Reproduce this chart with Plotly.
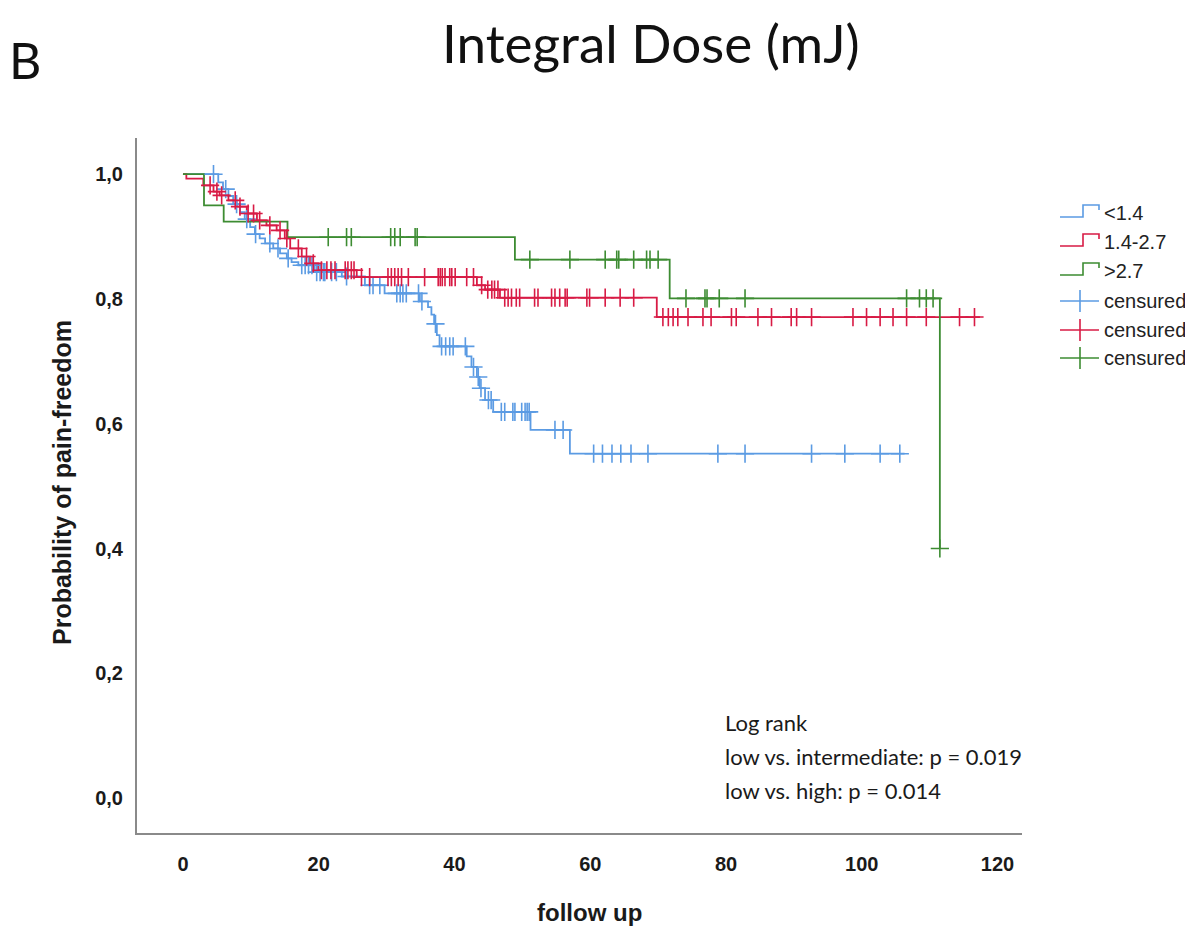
import plotly.graph_objects as go

# ---------------- data ----------------
x_ticks = [0, 20, 40, 60, 80, 100, 120]
y_ticks = [0.0, 0.2, 0.4, 0.6, 0.8, 1.0]
y_ticklabels = ["0,0", "0,2", "0,4", "0,6", "0,8", "1,0"]

group_names = ["<1.4", "1.4-2.7", ">2.7"]
censor_name = "censured"

# <1.4 (blue)
blue_times = [5.2, 5.9, 6.7, 7.4, 8.4, 9.1, 9.9, 10.6, 11.3, 12.1, 13.3, 14.3, 15.3, 16.0,
              17.0, 19.4, 23.4, 26.8, 29.7, 34.9, 36.1, 36.6, 37.0, 37.4, 37.8, 41.8,
              42.5, 43.3, 43.7, 44.5, 45.7, 51.2, 57.0]
blue_surv = [0.987, 0.976, 0.965, 0.952, 0.939, 0.928, 0.915, 0.904, 0.897, 0.889, 0.881,
             0.873, 0.865, 0.859, 0.854, 0.843, 0.836, 0.822, 0.809, 0.796, 0.787, 0.775,
             0.760, 0.742, 0.724, 0.708, 0.691, 0.675, 0.657, 0.638, 0.619, 0.590, 0.552]
blue_end = 106.3
blue_censored = [4.5, 6.3, 7.9, 9.4, 10.7, 12.8, 14.0, 15.5, 17.5, 18.0, 18.5, 19.0, 19.7,
                 20.2, 20.7, 20.9, 21.9, 22.6, 24.1, 27.5, 28.0, 29.0, 31.5, 32.0, 32.4,
                 32.9, 34.7, 35.2, 37.2, 38.1, 38.7, 39.3, 39.8, 41.6, 42.8, 43.5, 43.9,
                 45.0, 45.4, 46.9, 47.4, 48.6, 48.9, 49.9, 50.4, 50.7, 51.0, 54.8, 56.0,
                 60.5, 61.8, 63.2, 64.5, 66.0, 68.5, 78.8, 82.8, 92.6, 97.5, 102.7, 105.6]

# 1.4-2.7 (red)
red_times = [0.5, 3.0, 4.5, 5.4, 6.7, 7.9, 9.4, 10.9, 12.3, 13.8, 15.0, 15.8, 17.5, 18.7,
             19.9, 25.6, 43.3, 44.5, 46.7, 69.8]
red_surv = [0.993, 0.982, 0.972, 0.966, 0.958, 0.948, 0.937, 0.926, 0.918, 0.910, 0.897,
            0.881, 0.868, 0.857, 0.846, 0.835, 0.822, 0.815, 0.802, 0.771]
red_end = 117.4
red_censored = [4.0, 5.0, 5.7, 7.7, 8.4, 9.6, 10.4, 11.3, 12.8, 14.3, 15.3, 17.0, 18.2,
                19.2, 20.4, 21.2, 21.8, 22.4, 23.9, 24.3, 24.8, 25.2, 26.3, 27.5, 30.2,
                30.7, 31.2, 31.7, 32.2, 33.2, 35.6, 37.6, 37.9, 38.2, 38.6, 39.3, 39.6,
                40.1, 41.8, 42.8, 44.0, 44.9, 45.5, 45.9, 46.4, 47.4, 47.9, 48.4, 49.1,
                49.6, 51.8, 52.3, 54.3, 54.8, 55.5, 56.3, 56.6, 59.5, 59.9, 62.2, 64.4,
                66.4, 70.7, 71.5, 72.2, 72.9, 74.4, 76.6, 77.8, 80.8, 81.5, 84.7, 86.7,
                89.6, 90.4, 92.6, 98.7, 100.7, 102.7, 104.6, 106.6, 109.5, 114.4, 116.6]

# >2.7 (green)
green_times = [3.1, 6.0, 15.4, 48.9, 71.7, 111.5]
green_surv = [0.950, 0.924, 0.899, 0.863, 0.801, 0.400]
green_end = 111.5
green_censored = [21.4, 24.1, 24.8, 30.6, 31.2, 32.0, 34.2, 34.5, 51.1, 57.0, 62.2, 63.9,
                  64.2, 66.4, 68.3, 68.8, 70.0, 74.1, 76.9, 77.2, 79.0, 82.8, 106.6, 108.5,
                  109.5, 110.5, 111.5]

colors = ["#5b9be3", "#d81b45", "#3d8c32"]

# ---------------- layout geometry (screen pixels, page body has an 8px margin) ----------------
OFF = 8
W, H = 1193 - OFF, 930 - OFF
L, R, T, B = 137, 1022, 138, 833          # plot area in screen pixels
x_range = [-6.77, 123.6]
y_range = [-0.056, 1.058]


def px(xp):
    return (xp - L) / (R - L)


def py(yp):
    return (B - yp) / (B - T)


def step_value(times, levels, t):
    v = 1.0
    for ti, li in zip(times, levels):
        if ti <= t:
            v = li
    return v


fig = go.Figure()

series = [
    (blue_times, blue_surv, blue_end, blue_censored, colors[0], group_names[0]),
    (red_times, red_surv, red_end, red_censored, colors[1], group_names[1]),
    (green_times, green_surv, green_end, green_censored, colors[2], group_names[2]),
]

for times, surv, end, cens, col, name in series:
    xs = [0.0] + list(times) + [end]
    ys = [1.0] + list(surv) + [surv[-1]]
    fig.add_trace(go.Scatter(x=xs, y=ys, mode="lines", line=dict(color=col, width=1.8, shape="hv"),
                             name=name, showlegend=False, hoverinfo="skip"))

for times, surv, end, cens, col, name in series:
    cy = [step_value(times, surv, t) for t in cens]
    fig.add_trace(go.Scatter(x=cens, y=cy, mode="markers",
                             marker=dict(symbol="cross-thin", size=13, line=dict(color=col, width=1.6)),
                             name=censor_name, showlegend=False, hoverinfo="skip"))

tick_font = dict(family="Liberation Sans, Arial, sans-serif", size=20, color="#1a1a1a", weight="bold")

fig.update_layout(
    width=W, height=H,
    margin=dict(l=L - OFF, r=(W + OFF) - R, t=T - OFF, b=(H + OFF) - B),
    paper_bgcolor="white", plot_bgcolor="white",
    showlegend=False,
    xaxis=dict(range=x_range, tickvals=x_ticks, ticktext=[str(v) for v in x_ticks],
               showline=True, linecolor="#8a8a8a", linewidth=2, showgrid=False, zeroline=False,
               ticks="", tickfont=tick_font, ticklabelstandoff=12),
    yaxis=dict(range=y_range, tickvals=y_ticks, ticktext=y_ticklabels,
               showline=True, linecolor="#8a8a8a", linewidth=2, showgrid=False, zeroline=False,
               ticks="", tickfont=tick_font, ticklabelstandoff=8),
)

ann = []
# titles
ann.append(dict(x=px(651), y=py(43), xref="paper", yref="paper", text="Integral Dose (mJ)",
                showarrow=False, xanchor="center", yanchor="middle",
                font=dict(family="Lato, sans-serif", size=53, color="#111111")))
ann.append(dict(x=px(25), y=py(60), xref="paper", yref="paper", text="B",
                showarrow=False, xanchor="center", yanchor="middle",
                font=dict(family="Lato, sans-serif", size=50, color="#111111")))
# axis titles
ann.append(dict(x=px(62), y=py(483), xref="paper", yref="paper", text="Probability of pain-freedom",
                showarrow=False, xanchor="center", yanchor="middle", textangle=-90,
                font=dict(family="Liberation Sans, Arial, sans-serif", size=25, color="#1a1a1a", weight="bold")))
ann.append(dict(x=px(589), y=py(912), xref="paper", yref="paper", text="follow up",
                showarrow=False, xanchor="center", yanchor="middle",
                font=dict(family="Liberation Sans, Arial, sans-serif", size=24, color="#1a1a1a", weight="bold")))
# log rank text
for txt, yy in [("Log rank", 722), ("low vs. intermediate: p = 0.019", 756), ("low vs. high: p = 0.014", 790)]:
    ann.append(dict(x=px(723), y=py(yy), xref="paper", yref="paper", text=txt,
                    showarrow=False, xanchor="left", yanchor="middle",
                    font=dict(family="Lato, sans-serif", size=22, color="#1a1a1a")))

# manual legend
shapes = []
legend_rows = [213, 242, 271]
for (col, name, yy) in zip(colors, group_names, legend_rows):
    path = (f"M {px(1060)},{py(yy + 4)} L {px(1083)},{py(yy + 4)} L {px(1083)},{py(yy - 8)} "
            f"L {px(1099)},{py(yy - 8)} L {px(1099)},{py(yy - 3)}")
    shapes.append(dict(type="path", xref="paper", yref="paper", path=path,
                       line=dict(color=col, width=1.6)))
    ann.append(dict(x=px(1102), y=py(yy), xref="paper", yref="paper", text=name,
                    showarrow=False, xanchor="left", yanchor="middle",
                    font=dict(family="Liberation Sans, Arial, sans-serif", size=20, color="#222222")))
cens_rows = [301, 330, 358]
for (col, yy) in zip(colors, cens_rows):
    shapes.append(dict(type="line", xref="paper", yref="paper", x0=px(1060), x1=px(1099),
                       y0=py(yy), y1=py(yy), line=dict(color=col, width=1.6)))
    shapes.append(dict(type="line", xref="paper", yref="paper", x0=px(1080), x1=px(1080),
                       y0=py(yy - 11), y1=py(yy + 11), line=dict(color=col, width=1.6)))
    ann.append(dict(x=px(1102), y=py(yy), xref="paper", yref="paper", text=censor_name,
                    showarrow=False, xanchor="left", yanchor="middle",
                    font=dict(family="Liberation Sans, Arial, sans-serif", size=20, color="#222222")))

fig.update_layout(annotations=ann, shapes=shapes)
fig.write_html("out.html")
